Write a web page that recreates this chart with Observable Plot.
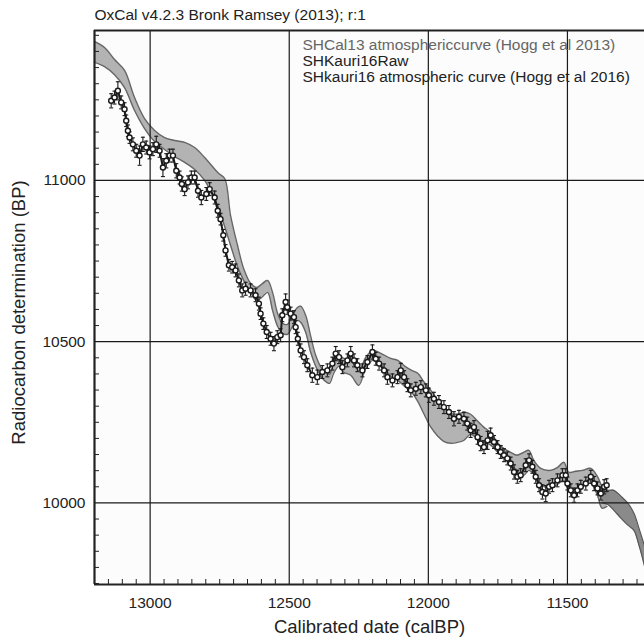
<!DOCTYPE html>
<html><head><meta charset="utf-8">
<script src="https://cdn.jsdelivr.net/npm/d3@7"></script>
<script src="https://cdn.jsdelivr.net/npm/@observablehq/plot@0.6"></script>
<style>
html,body{margin:0;padding:0;background:#fff;overflow:hidden}
</style></head><body><div id="chart"></div>
<script>
// ---- text ----
const titleText = "OxCal v4.2.3 Bronk Ramsey (2013); r:1";
const legendLabels = [
  "SHCal13 atmosphericcurve (Hogg et al 2013)",
  "SHKauri16Raw",
  "SHkauri16 atmospheric curve (Hogg et al 2016)"
];
const xLabel = "Calibrated date (calBP)";
const yLabel = "Radiocarbon determination (BP)";
const xTicks = [13000, 12500, 12000, 11500];
const yTicks = [10000, 10500, 11000];
const xDomain = [13200, 11223];
const yDomain = [9747, 11465];

// ---- SHKauri16Raw measurements ----
const rawCal = [13140,13128,13116,13104,13092,13086,13080,13074,13062,13050,
13038,13026,13014,13002,12990,12978,12966,12954,12942,12930,
12918,12906,12894,12886,12876,12864,12852,12840,12828,12816,
12798,12786,12768,12757,12747,12737,12729,12717,12705,12693,
12681,12669,12657,12639,12621,12609,12603,12593,12581,12567,
12555,12543,12531,12525,12513,12507,12495,12483,12477,12469,
12459,12447,12435,12417,12399,12381,12363,12345,12333,12321,
12309,12291,12279,12267,12255,12237,12219,12201,12189,12177,
12159,12147,12129,12111,12099,12087,12075,12063,12045,12027,
12009,11998,11980,11962,11944,11926,11908,11890,11872,11860,
11848,11836,11823,11812,11800,11787,11776,11764,11751,11740,
11728,11716,11704,11692,11680,11668,11650,11638,11626,11614,
11602,11590,11578,11566,11554,11536,11518,11506,11500,11488,
11476,11464,11452,11434,11416,11404,11392,11380,11368,11359];
const rawBP = [11247,11257,11278,11242,11221,11185,11154,11133,11112,11092,
11077,11112,11102,11087,11097,11112,11092,11040,11061,11077,
11077,11030,11009,10989,10973,10994,11009,11009,10968,10947,
10958,10973,10947,10906,10880,10830,10783,10737,10731,10721,
10690,10659,10664,10659,10644,10618,10587,10556,10530,10509,
10494,10514,10520,10582,10623,10607,10587,10576,10545,10509,
10473,10452,10427,10396,10390,10406,10411,10432,10463,10452,
10421,10442,10463,10442,10427,10411,10437,10468,10447,10432,
10411,10390,10380,10390,10411,10390,10365,10349,10354,10359,
10349,10334,10323,10313,10297,10282,10261,10267,10261,10246,
10225,10235,10204,10184,10173,10194,10210,10189,10173,10158,
10148,10138,10122,10096,10081,10086,10117,10132,10112,10081,
10055,10034,10029,10050,10055,10070,10086,10086,10060,10039,
10024,10039,10050,10060,10081,10060,10045,10029,10050,10055];
const rawErr = [22,20,28,20,20,18,18,18,20,20,
30,22,20,20,20,25,20,28,22,20,
20,22,20,22,20,20,20,20,20,22,
20,20,20,20,18,18,18,18,18,20,
20,20,20,20,20,20,18,18,20,20,
22,20,20,20,25,22,20,20,20,20,
20,20,20,22,22,20,20,20,22,20,
20,20,22,20,20,20,20,22,20,20,
20,22,20,20,22,20,20,20,20,20,
20,22,20,20,20,20,22,20,20,20,
22,20,22,22,20,28,22,20,20,20,
20,20,20,22,20,20,20,20,20,20,
20,22,25,20,20,20,20,20,20,20,
22,20,20,20,20,22,20,20,22,20];

// ---- SHCal13 band ----
const sh13Cal = [13200,13164,13128,13092,13056,13020,12984,12948,12912,12876,
12840,12804,12776,12754,12732,12711,12686,12664,12639,12617,
12599,12578,12560,12542,12524,12506,12488,12470,12459,12441,
12423,12405,12383,12365,12355,12340,12322,12304,12279,12250,
12225,12200,12171,12135,12110,12085,12060,12038,12017,11991,
11966,11945,11919,11894,11873,11848,11826,11801,11776,11750,
11729,11704,11682,11657,11639,11621,11596,11560,11535,11513,
11495,11470,11445,11416,11391,11376,11358];
const sh13Hi = [11431,11412,11375,11341,11257,11192,11155,11133,11124,11118,
11102,11071,11043,11022,11006,10892,10799,10727,10681,10668,
10678,10690,10653,10588,10557,10554,10585,10606,10610,10582,
10517,10458,10417,10405,10399,10433,10458,10448,10442,10411,
10451,10473,10464,10448,10442,10424,10411,10402,10377,10349,
10318,10297,10278,10275,10281,10275,10256,10235,10219,10185,
10169,10157,10148,10157,10163,10132,10107,10101,10110,10126,
10095,10098,10101,10107,10080,10052,10039];
const sh13Lo = [11366,11353,11328,11288,11217,11161,11121,11096,11074,11056,
11034,11000,10954,10913,10857,10799,10733,10690,10653,10628,
10637,10653,10597,10548,10526,10523,10548,10566,10560,10529,
10467,10424,10389,10374,10371,10402,10424,10405,10396,10365,
10417,10442,10430,10393,10380,10362,10343,10315,10278,10235,
10207,10191,10185,10188,10194,10213,10201,10188,10179,10157,
10142,10120,10101,10086,10101,10089,10058,10045,10058,10070,
10039,10042,10052,10061,10021,9984,9989];

// ---- SHkauri16 curve (visible part) ----
const kCal = [11376,11355,11333,11308,11283,11261,11243,11222,11200];
const kHi  = [10045,10039,10039,10021,9999,9968,9922,9863,9791];
const kLo  = [10000,9995,9977,9953,9931,9915,9869,9801,9714];

// ---- build tables ----
const raw = rawCal.map((c, i) => ({cal: c, bp: rawBP[i], err: rawErr[i]}));
const sh13 = sh13Cal.map((c, i) => ({cal: c, hi: sh13Hi[i], lo: sh13Lo[i]}));
const kauri = kCal.map((c, i) => ({cal: c, hi: kHi[i], lo: kLo[i]}));

const W = 644, H = 641, mL = 94, mR = 0, mT = 30, mB = 57;
const innerW = W - mL - mR, innerH = H - mT - mB;
const minorX = d3.range(13150, 11200, -50).filter(v => !xTicks.includes(v));
const minorY = d3.range(9750, 11465, 50).filter(v => !yTicks.includes(v));

const capSymbol = {draw(ctx, size) { const w = Math.sqrt(size / Math.PI); ctx.moveTo(-w, 0); ctx.lineTo(w, 0); }};
const font = "'Liberation Sans', Arial, Helvetica, sans-serif";
const curve = "catmull-rom";
const txt = {textAnchor: "start", lineAnchor: "middle", frameAnchor: "top-left"};

const chart = Plot.plot({
  width: W, height: H,
  marginLeft: mL, marginRight: mR, marginTop: mT, marginBottom: mB,
  style: {fontFamily: font, fontSize: "15.5px", color: "#222", background: "#fff"},
  x: {domain: xDomain},
  y: {domain: yDomain},
  marks: [
    Plot.frame({fill: "#fcfcfc", stroke: null}),
    Plot.areaY(sh13, {x: "cal", y1: "lo", y2: "hi", fill: "#b3b3b3", curve, clip: true}),
    Plot.line(sh13, {x: "cal", y: "hi", stroke: "#666", strokeWidth: 1.4, curve, clip: true}),
    Plot.line(sh13, {x: "cal", y: "lo", stroke: "#666", strokeWidth: 1.4, curve, clip: true}),
    Plot.areaY(kauri, {x: "cal", y1: "lo", y2: "hi", fill: "#8a8a8a", curve, clip: true}),
    Plot.line(kauri, {x: "cal", y: "hi", stroke: "#555", strokeWidth: 1.2, curve, clip: true}),
    Plot.line(kauri, {x: "cal", y: "lo", stroke: "#555", strokeWidth: 1.2, curve, clip: true}),
    Plot.ruleX(xTicks, {stroke: "#1a1a1a", strokeWidth: 1.2}),
    Plot.ruleY(yTicks, {stroke: "#1a1a1a", strokeWidth: 1.2}),
    Plot.ruleX(minorX, {stroke: "#222", strokeWidth: 1, insetTop: innerH - 5}),
    Plot.ruleY(minorY, {stroke: "#222", strokeWidth: 1, insetRight: innerW - 5}),
    Plot.ruleX(raw, {x: "cal", y1: d => d.bp - d.err, y2: d => d.bp + d.err, stroke: "#1a1a1a", strokeWidth: 1.1}),
    Plot.dot(raw, {x: "cal", y: d => d.bp - d.err, symbol: capSymbol, r: 2, fill: "none", stroke: "#1a1a1a", strokeWidth: 1.1}),
    Plot.dot(raw, {x: "cal", y: d => d.bp + d.err, symbol: capSymbol, r: 2, fill: "none", stroke: "#1a1a1a", strokeWidth: 1.1}),
    Plot.line(raw, {x: "cal", y: "bp", stroke: "#1a1a1a", strokeWidth: 2}),
    Plot.dot(raw, {x: "cal", y: "bp", r: 2.5, fill: "#fff", stroke: "#1a1a1a", strokeWidth: 1.4}),
    Plot.ruleX([xDomain[0]], {stroke: "#222", strokeWidth: 2.2}),
    Plot.ruleY([yDomain[0], yDomain[1]], {stroke: "#222", strokeWidth: 2.2}),
    Plot.axisX({ticks: xTicks, tickSize: 0, tickPadding: 12, tickFormat: d => String(d), label: null, fontSize: 15.5}),
    Plot.axisY({ticks: yTicks, tickSize: 0, tickPadding: 9, tickFormat: d => String(d), label: null, fontSize: 15.5}),
    Plot.text([titleText], {...txt, dy: -15, fontSize: 15.5, fill: "#222"}),
    Plot.text([legendLabels[0]], {...txt, dx: 208, dy: 14.5, fontSize: 15.5, fill: "#666"}),
    Plot.text([legendLabels[1]], {...txt, dx: 208, dy: 30.5, fontSize: 15.5, fill: "#222"}),
    Plot.text([legendLabels[2]], {...txt, dx: 208, dy: 46.5, fontSize: 15.5, fill: "#222"}),
    Plot.text([xLabel], {frameAnchor: "bottom", textAnchor: "middle", lineAnchor: "middle", dy: 43, fontSize: 18.5, fill: "#222"}),
    Plot.text([yLabel], {frameAnchor: "left", textAnchor: "middle", lineAnchor: "middle", rotate: -90, dx: -75.5, dy: 5, fontSize: 18.5, fill: "#222"})
  ]
});
document.getElementById("chart").appendChild(chart);
</script></body></html>
